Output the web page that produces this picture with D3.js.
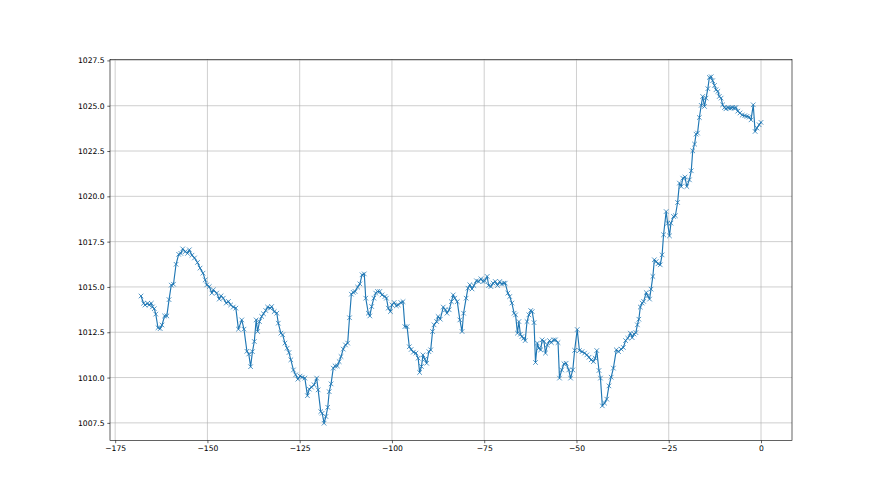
<!DOCTYPE html>
<html>
<head>
<meta charset="utf-8">
<script src="https://cdn.jsdelivr.net/npm/d3@7"></script>
<style>
  html, body { margin: 0; padding: 0; background: #ffffff; }
  svg { display: block; }
  text { font-family: "DejaVu Sans", sans-serif; }
</style>
</head>
<body>
<svg id="chart" width="880" height="495"></svg>
<script>
// Hours relative to now
const hours = [
  -168.0,-167.3,-166.9,-166.2,-165.8,-165.2,-164.9,-164.4,-164.0,-163.4,-162.8,-162.3,-161.6,-161.0,-160.4,-159.8,-159.2,-158.5,-157.8,-157.2,
  -156.7,-156.0,-155.4,-154.9,-154.2,-153.5,-152.7,-152.0,-151.2,-150.6,-150.2,-149.5,-148.8,-148.4,-147.5,-146.8,-146.3,-145.7,-144.9,-144.3,
  -143.7,-143.0,-142.3,-141.6,-140.7,-140.1,-139.3,-138.8,-138.3,-137.8,-137.3,-136.8,-136.4,-135.9,-135.3,-134.8,-134.2,-133.7,-133.0,-132.6,
  -131.9,-131.2,-130.8,-130.1,-129.6,-129.0,-128.4,-127.9,-127.4,-126.7,-126.1,-125.5,-124.9,-124.3,-123.6,-122.9,-122.4,-121.8,-121.1,-120.4,
  -120.0,-119.3,-118.9,-118.4,-117.9,-117.4,-117.0,-116.5,-115.9,-115.4,-114.8,-114.3,-113.8,-113.2,-112.6,-112.0,-111.5,-111.0,-110.5,-110.0,
  -109.3,-108.7,-108.1,-107.5,-107.1,-106.4,-106.0,-105.5,-104.9,-104.4,-103.9,-103.3,-102.7,-101.9,-101.5,-101.0,-100.4,-100.0,-99.4,-98.8,
  -98.3,-97.6,-97.0,-96.5,-95.9,-95.3,-94.8,-94.2,-93.5,-92.9,-92.5,-92.0,-91.6,-91.1,-90.6,-90.0,-89.5,-89.0,-88.6,-87.9,
  -87.5,-86.9,-86.1,-85.5,-85.1,-84.5,-83.9,-83.4,-83.0,-82.3,-81.6,-81.0,-80.6,-79.9,-79.4,-78.9,-78.3,-77.8,-77.1,-76.5,
  -75.9,-75.3,-74.9,-74.2,-73.8,-73.2,-72.6,-72.0,-71.4,-70.8,-70.3,-69.7,-69.3,-68.6,-68.1,-67.5,-66.9,-66.5,-66.0,-65.6,
  -65.2,-64.8,-64.3,-63.9,-63.4,-62.9,-62.4,-62.0,-61.5,-61.1,-60.6,-60.2,-59.7,-59.3,-58.8,-58.4,-57.9,-57.3,-56.8,-56.2,
  -55.7,-55.0,-54.6,-54.0,-53.4,-52.8,-52.1,-51.6,-51.0,-50.5,-49.8,-49.2,-48.5,-47.8,-47.2,-46.6,-46.0,-45.4,-44.9,-44.5,
  -43.9,-43.5,-43.0,-42.4,-41.8,-41.2,-40.6,-40.0,-39.2,-38.6,-37.9,-37.3,-36.7,-36.1,-35.4,-34.9,-34.4,-33.9,-33.5,-33.1,
  -32.7,-32.2,-31.8,-31.1,-30.7,-30.2,-29.8,-29.3,-28.9,-28.4,-27.9,-27.3,-26.8,-26.4,-25.7,-25.3,-24.8,-24.4,-23.7,-23.2,
  -22.6,-22.1,-21.6,-21.2,-20.6,-20.1,-19.4,-18.9,-18.5,-18.0,-17.6,-17.2,-16.7,-16.2,-15.8,-15.3,-14.9,-14.4,-14.0,-13.5,
  -13.1,-12.6,-12.2,-11.7,-11.3,-10.8,-10.4,-9.9,-9.5,-9.0,-8.6,-8.1,-7.7,-7.2,-6.8,-6.3,-5.7,-5.1,-4.4,-3.8,
  -3.2,-2.7,-2.1,-1.6,-1.1,-0.5,0.0
];

// Pressure (hPa)
const pressure = [
  1014.5,1014.1,1014.0,1014.1,1014.0,1014.1,1013.9,1013.8,1013.5,1012.75,1012.7,1012.9,1013.4,1013.4,1014.3,1015.1,1015.15,1016.25,1016.8,1016.85,
  1017.1,1016.95,1016.85,1017.05,1016.75,1016.6,1016.35,1016.04,1015.76,1015.39,1015.11,1015.02,1014.66,1014.84,1014.66,1014.33,1014.51,1014.38,1014.11,1014.2,
  1014.01,1013.89,1013.83,1012.67,1013.18,1012.67,1011.45,1011.3,1010.6,1011.43,1011.99,1013.18,1012.54,1013.09,1013.37,1013.52,1013.7,1013.89,1013.83,1013.92,
  1013.64,1013.55,1013.0,1012.45,1012.36,1011.9,1011.62,1011.38,1010.98,1010.42,1010.15,1009.91,1010.08,1010.02,1009.97,1009.0,1009.36,1009.47,1009.6,1009.97,
  1009.32,1008.12,1008.03,1007.48,1007.85,1008.36,1009.22,1009.65,1010.52,1010.64,1010.64,1010.88,1011.16,1011.57,1011.8,1011.9,1013.3,1014.6,1014.7,1014.75,
  1014.99,1015.17,1015.67,1015.72,1014.38,1013.55,1013.4,1013.92,1014.38,1014.66,1014.75,1014.75,1014.56,1014.47,1014.38,1013.83,1013.64,1014.01,1014.14,1013.96,
  1014.01,1014.14,1014.19,1012.81,1012.81,1011.7,1011.55,1011.4,1011.35,1011.07,1010.28,1010.61,1011.25,1011.01,1010.79,1011.43,1011.53,1012.54,1012.91,1013.09,
  1013.37,1013.22,1013.89,1013.74,1013.55,1013.74,1014.19,1014.56,1014.38,1014.19,1013.18,1012.54,1013.55,1014.38,1014.93,1015.12,1014.89,1015.08,1015.34,1015.3,
  1015.45,1015.3,1015.34,1015.58,1015.08,1015.02,1015.21,1015.3,1015.08,1015.3,1015.16,1015.21,1015.21,1014.66,1014.47,1014.11,1013.55,1013.46,1012.45,1013.09,
  1012.39,1012.26,1012.17,1012.04,1013.09,1013.46,1013.7,1013.64,1013.03,1010.83,1011.9,1011.62,1011.53,1012.08,1011.99,1011.35,1011.8,1012.04,1011.93,1012.08,
  1012.08,1011.93,1009.97,1010.42,1010.76,1010.79,1010.42,1009.97,1010.42,1011.5,1012.65,1011.49,1011.43,1011.35,1011.25,1011.12,1010.98,1010.88,1011.07,1011.49,
  1010.39,1009.97,1008.44,1008.59,1008.81,1009.54,1010.02,1010.52,1011.53,1011.43,1011.57,1011.66,1012.04,1012.17,1012.45,1012.2,1012.4,1012.48,1012.91,1013.22,
  1013.89,1014.11,1014.2,1014.69,1014.51,1014.33,1014.88,1015.58,1016.5,1016.4,1016.28,1016.22,1016.77,1017.88,1019.16,1018.52,1017.82,1018.52,1018.89,1018.93,
  1019.66,1020.73,1020.54,1021.0,1021.06,1020.54,1020.91,1021.41,1022.51,1022.88,1023.43,1023.49,1024.35,1025.02,1025.51,1024.96,1025.42,1025.94,1026.56,1026.6,
  1026.38,1026.12,1025.88,1025.79,1025.51,1025.42,1025.05,1024.9,1024.83,1024.9,1024.87,1024.87,1024.9,1024.87,1024.9,1024.7,1024.6,1024.48,1024.45,1024.41,
  1024.37,1024.22,1025.05,1023.58,1023.77,1023.95,1024.08
];

const xTicks = [-175, -150, -125, -100, -75, -50, -25, 0];
const yTicks = [1007.5, 1010.0, 1012.5, 1015.0, 1017.5, 1020.0, 1022.5, 1025.0, 1027.5];

(function () {
  const W = 880, H = 495;
  const mLeft = 0.125 * W, mRight = 0.9 * W, mTop = (1 - 0.88) * H, mBottom = (1 - 0.11) * H;
  const n = Math.min(hours.length, pressure.length);
  const data = hours.slice(0, n).map((h, i) => ({ x: h, y: pressure[i] }));

  const svg = d3.select("#chart");
  svg.append("rect").attr("width", W).attr("height", H).attr("fill", "#ffffff");

  const [x0, x1] = d3.extent(hours);
  const [y0, y1] = d3.extent(pressure);
  const xm = (x1 - x0) * 0.05, ym = (y1 - y0) * 0.05;
  const x = d3.scaleLinear().domain([x0 - xm, x1 + xm]).range([mLeft, mRight]);
  const y = d3.scaleLinear().domain([y0 - ym, y1 + ym]).range([mBottom, mTop]);

  const k = 55 / 72;
  const color = "#1f77b4";
  const gridColor = "#b0b0b0";
  const fontPx = 10 * k;
  const tickLen = 3.5 * k;
  const pad = 3.5 * k;

  const g = svg.append("g");
  g.selectAll(".vg").data(xTicks).enter().append("line")
    .attr("x1", d => x(d)).attr("x2", d => x(d))
    .attr("y1", mTop).attr("y2", mBottom)
    .attr("stroke", gridColor).attr("stroke-width", 0.8 * k);
  g.selectAll(".hg").data(yTicks).enter().append("line")
    .attr("x1", mLeft).attr("x2", mRight)
    .attr("y1", d => y(d)).attr("y2", d => y(d))
    .attr("stroke", gridColor).attr("stroke-width", 0.8 * k);

  const line = d3.line().x(d => x(d.x)).y(d => y(d.y));
  svg.append("path").datum(data)
    .attr("d", line).attr("fill", "none")
    .attr("stroke", color).attr("stroke-width", 1.5 * k)
    .attr("stroke-linejoin", "round").attr("stroke-linecap", "square");

  const ms = 6 * k / 2;
  const mk = svg.append("g").attr("stroke", color).attr("stroke-width", 1 * k);
  mk.selectAll("path").data(data).enter().append("path")
    .attr("d", d => {
      const cx = x(d.x), cy = y(d.y);
      return `M${cx - ms},${cy - ms}L${cx + ms},${cy + ms}M${cx - ms},${cy + ms}L${cx + ms},${cy - ms}`;
    });

  svg.append("rect").attr("x", mLeft).attr("y", mTop)
    .attr("width", mRight - mLeft).attr("height", mBottom - mTop)
    .attr("fill", "none").attr("stroke", "#000").attr("stroke-width", 0.8 * k);

  const xa = svg.append("g").attr("transform", `translate(0,${mBottom})`)
    .call(d3.axisBottom(x).tickValues(xTicks).tickSize(tickLen).tickPadding(pad)
      .tickFormat(d => d < 0 ? "\u2212" + Math.abs(d) : String(d)));
  xa.select(".domain").remove();
  xa.selectAll("line").attr("stroke", "#000").attr("stroke-width", 0.8 * k);
  xa.selectAll("text").attr("font-size", fontPx).attr("font-family", "DejaVu Sans").attr("fill", "#000");

  const ya = svg.append("g").attr("transform", `translate(${mLeft},0)`)
    .call(d3.axisLeft(y).tickValues(yTicks).tickSize(tickLen).tickPadding(pad)
      .tickFormat(d3.format(".1f")));
  ya.select(".domain").remove();
  ya.selectAll("line").attr("stroke", "#000").attr("stroke-width", 0.8 * k);
  ya.selectAll("text").attr("font-size", fontPx).attr("font-family", "DejaVu Sans").attr("fill", "#000");
})();
</script>
</body>
</html>
